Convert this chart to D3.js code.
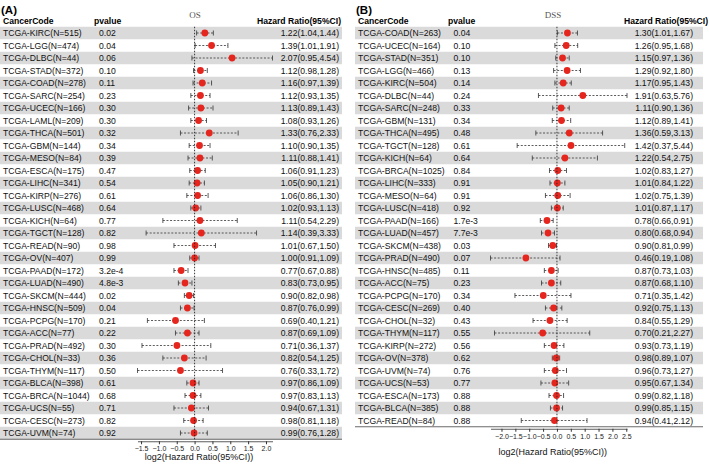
<!DOCTYPE html>
<html>
<head>
<meta charset="utf-8">
<script src="https://cdn.jsdelivr.net/npm/d3@7"></script>
<style>
  body { margin: 0; background: #fff; }
  svg { font-family: "Liberation Sans", Arial, sans-serif; }
</style>
</head>
<body>
<svg id="chart" width="709" height="466"></svg>
<script>
// ---- (A) OS ----
const osCodes = ["KIRC", "LGG", "DLBC", "STAD", "COAD", "SARC", "UCEC", "LAML", "THCA", "GBM", "MESO",
  "ESCA", "LIHC", "KIRP", "LUSC", "KICH", "TGCT", "READ", "OV", "PAAD", "LUAD", "SKCM", "HNSC",
  "PCPG", "ACC", "PRAD", "CHOL", "THYM", "BLCA", "BRCA", "UCS", "CESC", "UVM"];
const osN = [515, 474, 44, 372, 278, 254, 166, 209, 501, 144, 84, 175, 341, 276, 468, 64, 128, 90, 407,
  172, 490, 444, 509, 170, 77, 492, 33, 117, 398, 1044, 55, 273, 74];
const osP = ["0.02", "0.04", "0.06", "0.10", "0.11", "0.23", "0.30", "0.30", "0.32", "0.34", "0.39",
  "0.47", "0.54", "0.61", "0.64", "0.77", "0.82", "0.98", "0.99", "3.2e-4", "4.8e-3", "0.02", "0.04",
  "0.21", "0.22", "0.30", "0.36", "0.50", "0.61", "0.68", "0.71", "0.82", "0.92"];
const osHR = [1.22, 1.39, 2.07, 1.12, 1.16, 1.12, 1.13, 1.08, 1.33, 1.10, 1.11, 1.06, 1.05, 1.06, 1.02,
  1.11, 1.14, 1.01, 1.00, 0.77, 0.83, 0.90, 0.87, 0.69, 0.87, 0.71, 0.82, 0.76, 0.97, 0.97, 0.94, 0.98, 0.99];
const osLow = [1.04, 1.01, 0.95, 0.98, 0.97, 0.93, 0.89, 0.93, 0.76, 0.90, 0.88, 0.91, 0.90, 0.86, 0.93,
  0.54, 0.39, 0.67, 0.91, 0.67, 0.73, 0.82, 0.76, 0.40, 0.69, 0.36, 0.54, 0.33, 0.86, 0.83, 0.67, 0.81, 0.76];
const osHigh = [1.44, 1.91, 4.54, 1.28, 1.39, 1.35, 1.43, 1.26, 2.33, 1.35, 1.41, 1.23, 1.21, 1.30, 1.13,
  2.29, 3.33, 1.50, 1.09, 0.88, 0.95, 0.98, 0.99, 1.21, 1.09, 1.37, 1.25, 1.72, 1.09, 1.13, 1.31, 1.18, 1.28];
const osTicks = [-1.5, -1.0, -0.5, 0.0, 0.5, 1.0, 1.5, 2.0];

// ---- (B) DSS ----
const dssCodes = ["COAD", "UCEC", "STAD", "LGG", "KIRC", "DLBC", "SARC", "GBM", "THCA", "TGCT", "KICH",
  "BRCA", "LIHC", "MESO", "LUSC", "PAAD", "LUAD", "SKCM", "PRAD", "HNSC", "ACC", "PCPG", "CESC",
  "CHOL", "THYM", "KIRP", "OV", "UVM", "UCS", "ESCA", "BLCA", "READ"];
const dssN = [263, 164, 351, 466, 504, 44, 248, 131, 495, 128, 64, 1025, 333, 64, 418, 166, 457, 438,
  490, 485, 75, 170, 269, 32, 117, 272, 378, 74, 53, 173, 385, 84];
const dssP = ["0.04", "0.10", "0.10", "0.13", "0.14", "0.24", "0.33", "0.34", "0.48", "0.61", "0.64",
  "0.84", "0.91", "0.91", "0.92", "1.7e-3", "7.7e-3", "0.03", "0.07", "0.11", "0.23", "0.34", "0.40",
  "0.43", "0.55", "0.56", "0.62", "0.76", "0.77", "0.88", "0.88", "0.88"];
const dssHR = [1.30, 1.26, 1.15, 1.29, 1.17, 1.91, 1.11, 1.12, 1.36, 1.42, 1.22, 1.02, 1.01, 1.02, 1.01,
  0.78, 0.80, 0.90, 0.46, 0.87, 0.87, 0.71, 0.92, 0.84, 0.70, 0.93, 0.98, 0.96, 0.95, 0.99, 0.99, 0.94];
const dssLow = [1.01, 0.95, 0.97, 0.92, 0.95, 0.63, 0.90, 0.89, 0.59, 0.37, 0.54, 0.83, 0.84, 0.75, 0.87,
  0.66, 0.68, 0.81, 0.19, 0.73, 0.68, 0.35, 0.75, 0.55, 0.21, 0.73, 0.89, 0.73, 0.67, 0.82, 0.85, 0.41];
const dssHigh = [1.67, 1.68, 1.36, 1.80, 1.43, 5.76, 1.36, 1.41, 3.13, 5.44, 2.75, 1.27, 1.22, 1.39, 1.17,
  0.91, 0.94, 0.99, 1.08, 1.03, 1.10, 1.42, 1.13, 1.29, 2.27, 1.19, 1.07, 1.27, 1.34, 1.18, 1.15, 2.12];
const dssTicks = [-2.0, -1.5, -1.0, -0.5, 0.0, 0.5, 1.0, 1.5, 2.0, 2.5];

const svg = d3.select("#chart");
const fmt = d3.format(".2f");

function drawForest(cfg) {
  const g = svg.append("g");
  const rows = cfg.codes.map((c, i) => ({
    label: `TCGA-${c}(N=${cfg.n[i]})`,
    p: cfg.p[i],
    hr: cfg.hr[i],
    lo: cfg.low[i],
    hi: cfg.high[i],
    i: i
  }));

  // row scale
  const y = d3.scaleBand()
    .domain(rows.map((d) => d.label))
    .range([cfg.top, cfg.top + rows.length * cfg.rowH]);
  const bottom = cfg.top + rows.length * cfg.rowH;

  // log2 hazard ratio scale, domain = CI extent
  const x = d3.scaleLinear()
    .domain([Math.log2(d3.min(rows, (d) => d.lo)), Math.log2(d3.max(rows, (d) => d.hi))])
    .range([cfg.plotLeft, cfg.plotRight]);

  // striped background
  g.selectAll(".band")
    .data(rows.filter((d) => d.i % 2 === 0))
    .enter()
    .append("rect")
    .attr("x", cfg.left)
    .attr("y", (d) => y(d.label))
    .attr("width", cfg.right - cfg.left)
    .attr("height", y.bandwidth())
    .attr("fill", "#dadada");

  // table bottom line
  g.append("line")
    .attr("x1", cfg.left).attr("x2", cfg.right)
    .attr("y1", bottom).attr("y2", bottom)
    .attr("stroke", "#444").attr("stroke-width", 0.8);

  // panel tag and headers
  g.append("text").attr("x", cfg.left + 1).attr("y", 14)
    .attr("font-size", 11.5).attr("font-weight", "bold").text(cfg.tag);
  g.append("text").attr("x", cfg.left + 3).attr("y", 24)
    .attr("font-size", 8.6).attr("font-weight", "bold").text("CancerCode");
  g.append("text").attr("x", cfg.pvalHeadX).attr("y", 24)
    .attr("font-size", 8.6).attr("font-weight", "bold").text("pvalue");
  g.append("text").attr("x", cfg.hrHeadX).attr("y", 24)
    .attr("text-anchor", cfg.hrHeadAnchor)
    .attr("font-size", 8.6).attr("font-weight", "bold").text("Hazard Ratio(95%CI)");
  g.append("text").attr("x", cfg.titleX).attr("y", 18)
    .attr("text-anchor", "middle")
    .attr("font-family", "Liberation Serif, serif")
    .attr("font-size", 9).attr("fill", "#555").text(cfg.title);

  // row texts
  const rowG = g.selectAll(".row")
    .data(rows)
    .enter()
    .append("g")
    .attr("transform", (d) => `translate(0,${y(d.label) + y.bandwidth() / 2})`);

  rowG.append("text").attr("x", cfg.left + 3).attr("dy", "0.35em")
    .attr("font-size", 8.6).attr("fill", "#111").text((d) => d.label);
  rowG.append("text").attr("x", cfg.pvalX).attr("dy", "0.35em")
    .attr("font-size", 8.6).attr("fill", "#111").text((d) => d.p);
  rowG.append("text").attr("x", cfg.hrX).attr("dy", "0.35em")
    .attr("text-anchor", "end")
    .attr("font-size", 8.6).attr("fill", "#111")
    .text((d) => `${fmt(d.hr)}(${fmt(d.lo)},${fmt(d.hi)})`);

  // zero reference line
  g.append("line")
    .attr("x1", x(0)).attr("x2", x(0))
    .attr("y1", cfg.top).attr("y2", bottom)
    .attr("stroke", "#222").attr("stroke-width", 0.9)
    .attr("stroke-dasharray", "1.5,1.5");

  // CI lines with caps
  rowG.append("line")
    .attr("x1", (d) => x(Math.log2(d.lo)))
    .attr("x2", (d) => x(Math.log2(d.hi)))
    .attr("stroke", "#333").attr("stroke-width", 0.8)
    .attr("stroke-dasharray", "2,1.6");
  rowG.append("line")
    .attr("x1", (d) => x(Math.log2(d.lo))).attr("x2", (d) => x(Math.log2(d.lo)))
    .attr("y1", -2.5).attr("y2", 2.5)
    .attr("stroke", "#333").attr("stroke-width", 0.8);
  rowG.append("line")
    .attr("x1", (d) => x(Math.log2(d.hi))).attr("x2", (d) => x(Math.log2(d.hi)))
    .attr("y1", -2.5).attr("y2", 2.5)
    .attr("stroke", "#333").attr("stroke-width", 0.8);
  rowG.append("circle")
    .attr("cx", (d) => x(Math.log2(d.hr)))
    .attr("r", 3.4)
    .attr("fill", "#e5261f");

  // x axis
  const axis = g.append("g")
    .attr("transform", `translate(0,${bottom + 2})`)
    .call(d3.axisBottom(x).tickValues(cfg.ticks).tickFormat(d3.format(".1f"))
      .tickSize(3).tickSizeOuter(0));
  axis.selectAll("text").attr("font-size", 7).attr("dy", "0.6em")
    .attr("font-family", "Liberation Sans, Arial, sans-serif").attr("fill", "#222");
  axis.selectAll("line").attr("stroke", "#333");
  axis.select(".domain").attr("stroke", "#333").attr("stroke-width", 0.8);

  g.append("text")
    .attr("x", (cfg.plotLeft + cfg.plotRight) / 2 - 6)
    .attr("y", cfg.axisTitleY)
    .attr("text-anchor", "middle")
    .attr("font-size", 9).attr("fill", "#111")
    .text("log2(Hazard Ratio(95%CI))");
}

drawForest({
  tag: "(A)", title: "OS",
  codes: osCodes, n: osN, p: osP, hr: osHR, low: osLow, high: osHigh, ticks: osTicks,
  left: 0, right: 342, top: 26.75, rowH: 12.5,
  pvalHeadX: 94, pvalX: 99, hrX: 339, hrHeadX: 341, hrHeadAnchor: "end",
  plotLeft: 137.5, plotRight: 272.5, titleX: 195, axisTitleY: 459.5
});

drawForest({
  tag: "(B)", title: "DSS",
  codes: dssCodes, n: dssN, p: dssP, hr: dssHR, low: dssLow, high: dssHigh, ticks: dssTicks,
  left: 355, right: 703, top: 26.75, rowH: 12.5,
  pvalHeadX: 448, pvalX: 453.5, hrX: 693, hrHeadX: 624, hrHeadAnchor: "start",
  plotLeft: 490.5, plotRight: 627, titleX: 553, axisTitleY: 454.5
});
</script>
</body>
</html>
